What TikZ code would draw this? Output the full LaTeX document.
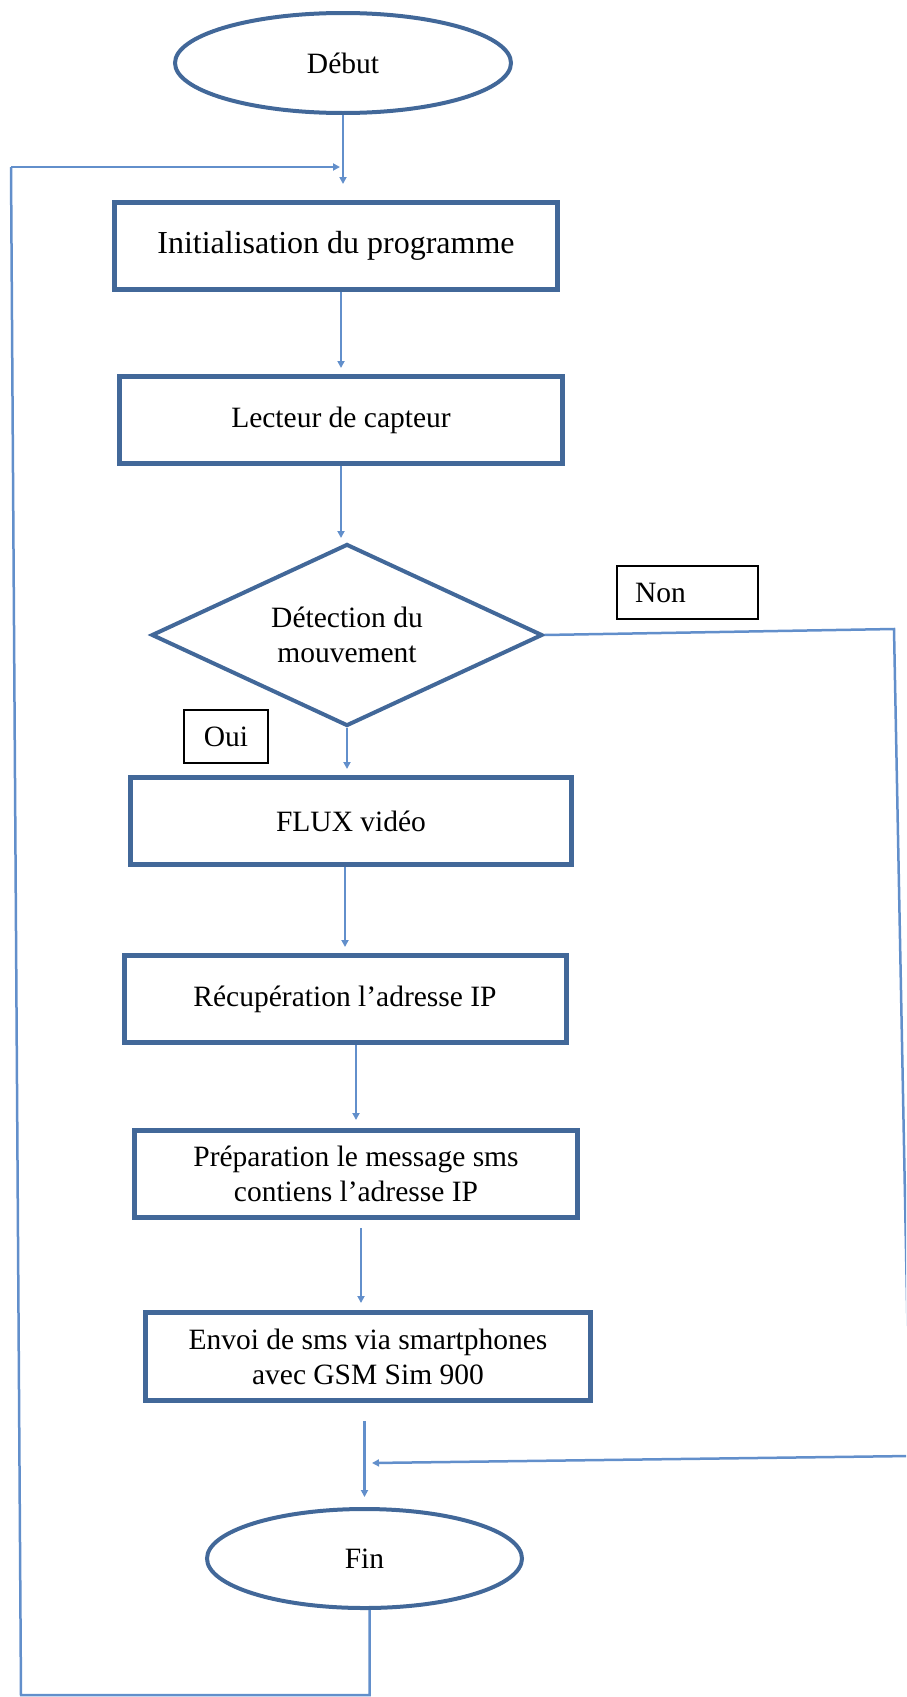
\documentclass[tikz,border=0pt]{standalone}
\usepackage{fontspec}
\setmainfont{Liberation Serif}
\usetikzlibrary{shapes.geometric,arrows.meta,calc}
\definecolor{boxblue}{RGB}{66,104,153}
\definecolor{linkblue}{RGB}{98,143,203}
\begin{document}
\begin{tikzpicture}[x=1pt,y=-1pt,
  txt/.style={font=\fontsize{29.5}{35}\selectfont, align=center, text=black},
  procbox/.style={draw=boxblue, line width=5pt, rectangle, inner sep=0pt, txt},
  termnode/.style={draw=boxblue, line width=4pt, ellipse, inner sep=0pt, txt},
  lblbox/.style={draw=black, line width=2pt, inner sep=0pt, txt},
  connline/.style={draw=linkblue, line width=2.5pt},
  arrline/.style={connline, -{Triangle[length=7pt,width=7pt]}}
]
\useasboundingbox (0,0) rectangle (906,1697);
\clip (0,0) rectangle (906,1697);

\node[termnode, minimum width=336, minimum height=100] (debut) at (343,63) {Début};
\node[procbox, minimum width=443, minimum height=87, font=\fontsize{32}{38}\selectfont] (init) at (336,246) {Initialisation du programme};
\node[procbox, minimum width=443, minimum height=87] (lect) at (341,420) {Lecteur de capteur};
\node[diamond, aspect=2.15, draw=boxblue, line width=4pt, inner sep=0pt, minimum width=391, minimum height=182, txt] (dec) at (347,635) {Détection du\\mouvement};
\node[lblbox, text width=105pt, align=left, inner xsep=18pt, minimum height=53] (non) at (687.5,592.5) {Non};
\node[lblbox, minimum width=84, minimum height=53] (oui) at (226,736.5) {Oui};
\node[procbox, minimum width=441, minimum height=87] (flux) at (351,821) {FLUX vidéo};
\node[procbox, minimum width=442, minimum height=87] (recup) at (345,999) {Récupération l’adresse IP};
\node[procbox, minimum width=443, minimum height=87] (prep) at (356,1174) {Préparation le message sms\\contiens l’adresse IP};
\node[procbox, minimum width=445, minimum height=88] (envoi) at (368,1356.5) {Envoi de sms via smartphones\\avec GSM Sim 900};
\node[termnode, minimum width=315, minimum height=99] (fin) at (364.5,1558.5) {Fin};

\coordinate (tl) at (11,167);
\coordinate (bl) at (21,1695);
\coordinate (fout) at ($(fin.south)+(5,0)$);
\coordinate (pe) at ($(prep.south)+(5,0)$);
\coordinate (nr1) at (894,629);
\coordinate (nr2) at (910,1456);
\coordinate (nend) at (372,1463);

\draw[arrline, shorten >=16pt] (debut.south) -- (debut.south |- init.north);
\draw[arrline, shorten >=3pt] (tl) -- (debut.south |- tl);
\draw[connline] (fout) -- (fout |- bl) -- (bl) -- (tl);
\draw[arrline, shorten >=6pt] (lect.north |- init.south) -- (lect.north);
\draw[arrline, shorten >=4pt] (lect.south) -- (lect.south |- dec.north);
\draw[arrline, shorten >=6pt] (dec.south) -- (dec.south |- flux.north);
\draw[arrline, shorten >=6pt] (recup.north |- flux.south) -- (recup.north);
\draw[arrline, shorten >=8pt] (prep.north |- recup.south) -- (prep.north);
\draw[arrline, shorten <=8pt, shorten >=7pt] (pe) -- (pe |- envoi.north);
\draw[arrline, shorten <=18pt, shorten >=10pt] (fin.north |- envoi.south) -- (fin.north);
\draw[arrline] (dec.east) -- (nr1) -- (nr2) -- (nend);
\end{tikzpicture}
\end{document}
